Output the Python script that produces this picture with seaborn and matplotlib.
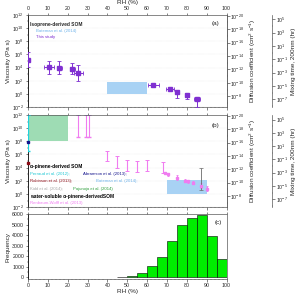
import numpy as np
import matplotlib
matplotlib.use("Agg")
import matplotlib.pyplot as plt
import matplotlib.ticker as mticker
import seaborn as sns

# --- Panel (a): isoprene-derived SOM ---
iso_rh = [0, 10.6, 15.8, 22.4, 25.4, 63, 71.5, 75, 80, 85]
iso_rh_err = [0.5, 2.3, 1.3, 1.1, 2.1, 2.8, 2.0, 1.0, 1.0, 1.5]
iso_visc = [1.3e5, 1.1e4, 1.0e4, 6.3e3, 1.4e3, 23, 6.3, 1.8, 0.7, 0.18]
iso_lo = [1.1e4, 1.1e3, 1.1e3, 9.5e2, 1.0e2, 15, 4.0, 0.23, 0.16, 0.013]
iso_hi = [2.5e6, 1.0e5, 1.0e5, 4.5e4, 2.5e4, 32, 9.0, 4.0, 1.3, 0.4]
bateman_iso_rh = (40, 60)
bateman_iso_visc = (1.0, 80)

# --- Panel (b): alpha-pinene-derived SOM ---
perraud_rh = [0]
perraud_lo = [3e6]
perraud_hi = [1e12]
abramson_rh = [0]
abramson_visc = [8e7]
robinson_rh = [0]
robinson_visc = [6e4]
pajunoja_rh = (0, 20)
pajunoja_visc = (1e8, 1e12)
bateman_ap_rh = (70, 90)
bateman_ap_visc = (1.0, 120)
kidd_rh = [87]
kidd_mid = [100]
kidd_lo = [4.5]
kidd_hi = [9e3]
rw_limit_rh = [25, 29, 30.5]
rw_limit_lo = [5e8, 5e8, 5e8]
rw_limit_hi = [1e12, 1e12, 1e12]
rw_range_rh = [40, 45, 50, 55, 60, 68]
rw_range_lo = [1e5, 1e4, 3e3, 2.5e3, 3e3, 1.6e3]
rw_range_hi = [4e6, 6e5, 1.6e5, 1e5, 1.3e5, 8e4]
rw_pt_rh = [69, 70.5, 75, 79, 80.5, 83, 87, 90]
rw_pt_visc = [1.6e3, 1.0e3, 2.8e2, 1.0e2, 80, 50, 16, 6.3]
rw_pt_lo = [1.0e3, 6.3e2, 1.2e2, 6.3e1, 50, 32, 7, 2.8]
rw_pt_hi = [2.5e3, 1.6e3, 9e2, 1.6e2, 1.3e2, 80, 40, 14]

# --- Panel (c): RH frequency ---
hist_edges = [45, 50, 55, 60, 65, 70, 75, 80, 85, 90, 95, 100]
hist_counts = [30, 150, 430, 1100, 1980, 3430, 4980, 5660, 5940, 3960, 1790]

# --- Axis scales ---
visc_lim = (1e-2, 1e12)
diff_lim = (4.5e-7, 7e-21)
mix_lim = (6.3e-9, 4.9e5)
visc_ticks = [1e-2, 1e0, 1e2, 1e4, 1e6, 1e8, 1e10, 1e12]
diff_ticks = [1e-20, 1e-18, 1e-16, 1e-14, 1e-12, 1e-10, 1e-8]
mix_ticks = [1e5, 1e3, 1e1, 1e-1, 1e-3, 1e-5, 1e-7]
rh_ticks = [0, 10, 20, 30, 40, 50, 60, 70, 80, 90, 100]
freq_ticks = [0, 1000, 2000, 3000, 4000, 5000, 6000]

sns.set_style("ticks")
plt.rcParams['font.family'] = ['Liberation Sans', 'DejaVu Sans']
plt.rcParams['mathtext.fontset'] = 'custom'
plt.rcParams['mathtext.rm'] = 'Liberation Sans'
plt.rcParams['mathtext.it'] = 'Liberation Sans:italic'

TICK_FS = 3.8
LAB_FS = 4.6
TXT_FS = 3.1
BOLD_FS = 3.5

purple = '#7f2fd1'
pink = '#f07cf0'
lightblue = '#a8d2f4'


def style_axes(ax):
    for side in ['top', 'right', 'bottom']:
        ax.spines[side].set_linewidth(0.5)
        ax.spines[side].set_color('0.35')
        ax.spines[side].set_linestyle((0, (1, 1)))
    ax.spines['left'].set_linewidth(0.6)
    ax.spines['left'].set_color('black')
    ax.tick_params(which='major', length=1.8, width=0.4, labelsize=TICK_FS, pad=1)
    ax.tick_params(which='minor', length=1.0, width=0.3)


def log_axis(ax, ticks):
    ax.set_yscale('log')
    ax.yaxis.set_major_locator(mticker.FixedLocator(ticks))
    ax.yaxis.set_major_formatter(mticker.LogFormatterSciNotation())
    ax.yaxis.set_minor_locator(mticker.LogLocator(base=10, subs=(1.0,), numticks=100))
    ax.yaxis.set_minor_formatter(mticker.NullFormatter())


def add_right_axes(ax):
    ax_d = ax.twinx()
    log_axis(ax_d, diff_ticks)
    ax_d.set_ylim(diff_lim)
    ax_d.set_ylabel('Diffusion coefficient (cm$^2$ s$^{-1}$)', fontsize=LAB_FS, labelpad=2)
    ax_m = ax.twinx()
    ax_m.spines['right'].set_position(('axes', 1.229))
    log_axis(ax_m, mix_ticks)
    ax_m.set_ylim(mix_lim)
    ax_m.set_ylabel('Mixing time, 200nm (hr)', fontsize=LAB_FS, labelpad=2)
    for a in (ax_d, ax_m):
        for side in ['top', 'left', 'bottom']:
            a.spines[side].set_visible(False)
        a.spines['right'].set_linewidth(0.5)
        a.spines['right'].set_color('0.35')
        a.tick_params(which='major', length=1.8, width=0.4, labelsize=TICK_FS, pad=1)
        a.tick_params(which='minor', length=1.0, width=0.3)


def main_axes(ax):
    log_axis(ax, visc_ticks)
    ax.set_ylim(visc_lim)
    ax.set_xlim(0, 100)
    ax.xaxis.set_major_locator(mticker.FixedLocator(rh_ticks))
    ax.xaxis.set_minor_locator(mticker.MultipleLocator(2))
    ax.grid(axis='y', which='major', color='0.85', linewidth=0.3, linestyle=':')
    ax.set_ylabel('Viscosity (Pa s)', fontsize=LAB_FS, labelpad=1)
    style_axes(ax)


fig = plt.figure(figsize=(2.99, 2.95), dpi=100)
ax_a = fig.add_axes([0.0936, 0.636, 0.664, 0.314])
ax_b = fig.add_axes([0.0936, 0.298, 0.664, 0.312])
ax_c = fig.add_axes([0.0936, 0.054, 0.664, 0.220])

# --- (a) ---
main_axes(ax_a)
ax_a.fill_between(bateman_iso_rh, bateman_iso_visc[0], bateman_iso_visc[1],
                  color=lightblue, linewidth=0, zorder=1)
iso_visc_arr = np.array(iso_visc)
ax_a.errorbar(iso_rh, iso_visc, xerr=iso_rh_err,
              yerr=[iso_visc_arr - np.array(iso_lo), np.array(iso_hi) - iso_visc_arr],
              fmt='s', color=purple, markersize=2.2, elinewidth=0.7, capsize=1.2,
              capthick=0.6, zorder=3)
ax_a.tick_params(axis='x', top=True, labeltop=True, bottom=True, labelbottom=False)
ax_a.xaxis.set_label_position('top')
ax_a.set_xlabel('RH (%)', fontsize=LAB_FS, labelpad=1)
ax_a.text(0.01, 0.896, 'Isoprene-derived SOM', transform=ax_a.transAxes, fontsize=BOLD_FS,
          fontweight='bold', va='center')
ax_a.text(0.04, 0.827, 'Bateman et al. (2014)', transform=ax_a.transAxes, fontsize=TXT_FS,
          color='#6cb2ea', va='center')
ax_a.text(0.04, 0.756, 'This study', transform=ax_a.transAxes, fontsize=TXT_FS,
          color=purple, va='center')
ax_a.text(0.925, 0.905, '(a)', transform=ax_a.transAxes, fontsize=LAB_FS, va='center')
add_right_axes(ax_a)

# --- (b) ---
main_axes(ax_b)
ax_b.fill_between(pajunoja_rh, pajunoja_visc[0], pajunoja_visc[1],
                  color='#9edcb4', linewidth=0, zorder=1)
ax_b.fill_between(bateman_ap_rh, bateman_ap_visc[0], bateman_ap_visc[1],
                  color=lightblue, linewidth=0, zorder=1)
lim_lo = np.array(rw_limit_lo)
ax_b.errorbar(rw_limit_rh, rw_limit_lo, yerr=[np.zeros(len(lim_lo)), np.array(rw_limit_hi) - lim_lo],
              lolims=True, fmt='none', ecolor=pink, elinewidth=0.8, capsize=1.2, zorder=2)
rng_lo = np.array(rw_range_lo)
rng_hi = np.array(rw_range_hi)
rng_mid = np.sqrt(rng_lo * rng_hi)
ax_b.errorbar(rw_range_rh, rng_mid, yerr=[rng_mid - rng_lo, rng_hi - rng_mid],
              fmt='none', ecolor=pink, elinewidth=0.8, capsize=1.4, capthick=0.7, zorder=2)
pt_v = np.array(rw_pt_visc)
ax_b.errorbar(rw_pt_rh, rw_pt_visc, yerr=[pt_v - np.array(rw_pt_lo), np.array(rw_pt_hi) - pt_v],
              fmt='s', color=pink, markersize=1.6, elinewidth=0.7, capsize=1.0, capthick=0.6, zorder=3)
kidd_v = np.array(kidd_mid)
ax_b.errorbar(kidd_rh, kidd_mid, yerr=[kidd_v - np.array(kidd_lo), np.array(kidd_hi) - kidd_v],
              fmt='none', ecolor='#6a6a6a', elinewidth=0.6, capsize=1.2, capthick=0.5, zorder=3)
p_lo = np.array(perraud_lo)
ax_b.errorbar(perraud_rh, perraud_lo, yerr=[np.zeros(1), np.array(perraud_hi) - p_lo],
              lolims=True, fmt='none', ecolor='#1fd2dc', elinewidth=0.9, capsize=1.2, zorder=3)
ax_b.plot(abramson_rh, abramson_visc, 's', color='#14148c', markersize=2.0, zorder=4, clip_on=False)
ax_b.plot(robinson_rh, robinson_visc, 's', color='#8b0a14', markersize=2.0, zorder=4, clip_on=False)
ax_b.tick_params(axis='x', top=True, labeltop=False, bottom=True, labelbottom=False)

legend_b = [
    (0.01, 0.436, 'α-pinene-derived SOM', 'black', True),
    (0.01, 0.357, 'Perraud et al. (2012);', '#1fc8d4', False),
    (0.279, 0.357, 'Abramson et al. (2013);', '#14148c', False),
    (0.01, 0.280, 'Robinson et al. (2013);', '#8b0a14', False),
    (0.343, 0.280, 'Bateman et al. (2014);', '#6cb2ea', False),
    (0.01, 0.200, 'Kidd et al. (2014);', '#a8a8a8', False),
    (0.229, 0.200, 'Pajunoja et al. (2014)', '#2e9e3c', False),
    (0.01, 0.120, 'water-soluble α-pinene-derivedSOM', 'black', True),
    (0.01, 0.040, 'Renbaum-Wolff et al. (2013)', pink, False),
]
for x, y, s, c, bold in legend_b:
    ax_b.text(x, y, s, transform=ax_b.transAxes, color=c, va='center',
              fontsize=BOLD_FS if bold else TXT_FS,
              fontweight='bold' if bold else 'normal')
ax_b.text(0.925, 0.89, '(b)', transform=ax_b.transAxes, fontsize=LAB_FS, va='center')
add_right_axes(ax_b)

# --- (c) ---
edges = np.array(hist_edges)
centers = (edges[:-1] + edges[1:]) / 2
sns.histplot(x=centers, weights=hist_counts, bins=hist_edges, color='#00ee00',
             edgecolor='black', linewidth=0.4, alpha=1, ax=ax_c)
ax_c.set_xlim(0, 100)
ax_c.set_ylim(-150, 6000)
ax_c.xaxis.set_major_locator(mticker.FixedLocator(rh_ticks))
ax_c.xaxis.set_minor_locator(mticker.MultipleLocator(2))
ax_c.yaxis.set_major_locator(mticker.FixedLocator(freq_ticks))
ax_c.yaxis.set_minor_locator(mticker.MultipleLocator(500))
ax_c.tick_params(axis='x', top=True)
ax_c.set_xlabel('RH (%)', fontsize=LAB_FS, labelpad=1)
ax_c.set_ylabel('Frequency', fontsize=LAB_FS, labelpad=1)
ax_c.text(0.94, 0.866, '(c)', transform=ax_c.transAxes, fontsize=LAB_FS, va='center')
style_axes(ax_c)

fig.savefig('out.png', dpi=100)
